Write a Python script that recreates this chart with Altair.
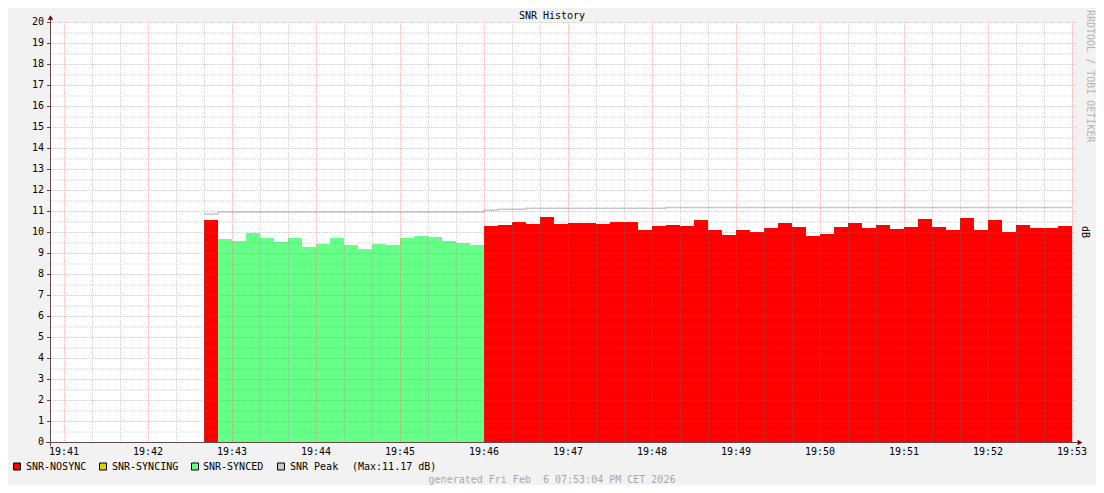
import altair as alt
import pandas as pd

# ---------------- values ----------------
x_tick_labels = ["19:41", "19:42", "19:43", "19:44", "19:45", "19:46", "19:47",
                 "19:48", "19:49", "19:50", "19:51", "19:52", "19:53"]
y_tick_values = [0, 1, 2, 3, 4, 5, 6, 7, 8, 9, 10, 11, 12, 13, 14, 15, 16, 17, 18, 19, 20]

state_names = ["SNR-NOSYNC", "SNR-SYNCING", "SNR-SYNCED"]
state_runs = [("SNR-NOSYNC", 1), ("SNR-SYNCED", 19), ("SNR-NOSYNC", 42)]
first_sample = "19:42:40"
step_seconds = 10

snr_values = [
    10.57,
    9.67, 9.57, 9.95, 9.71, 9.52, 9.71, 9.29, 9.43, 9.71, 9.38,
    9.19, 9.43, 9.38, 9.71, 9.81, 9.76, 9.57, 9.48, 9.38,
    10.29, 10.33, 10.48, 10.38, 10.71, 10.38, 10.43, 10.43, 10.38, 10.48, 10.48,
    10.10, 10.29, 10.33, 10.29, 10.57, 10.10, 9.86, 10.10, 10.00, 10.19,
    10.43, 10.24, 9.81, 9.90, 10.24, 10.43,
    10.19, 10.33, 10.14, 10.24, 10.62, 10.24, 10.10, 10.67, 10.10, 10.57,
    10.00, 10.33, 10.19, 10.19, 10.29,
]
snr_peak = [
    10.86,
    10.95, 10.95, 10.95, 10.95, 10.95, 10.95, 10.95, 10.95, 10.95, 10.95,
    10.95, 10.95, 10.95, 10.95, 10.95, 10.95, 10.95, 10.95, 10.95,
    11.03, 11.08, 11.08,
    11.13, 11.13, 11.13, 11.13, 11.13, 11.13, 11.13, 11.13, 11.13, 11.13,
    11.17, 11.17, 11.17, 11.17, 11.17, 11.17, 11.17, 11.17, 11.17, 11.17,
    11.17, 11.17, 11.17, 11.17, 11.17, 11.17, 11.17, 11.17, 11.17, 11.17,
    11.17, 11.17, 11.17, 11.17, 11.17, 11.17, 11.17, 11.17, 11.17,
]
legend_labels = ["SNR-NOSYNC", "SNR-SYNCING", "SNR-SYNCED", "SNR Peak"]
peak_note = "(Max:11.17 dB)"
title_text = "SNR History"
credit_text = "RRDTOOL / TOBI OETIKER"
unit_text = "dB"
generated_text = "generated Fri Feb\u00a0 6 07:53:04 PM CET 2026"

# ---------------- styles ----------------
FONT = "DejaVu Sans Mono"
state_colors = ["#ff0000", "#e0d000", "#66ff88"]
peak_color = "#c8c8c8"
axis_color = "#5f4848"
arrow_color = "#7f0000"
minor_grid = "rgba(128,128,128,0.36)"
major_grid = "rgba(235,70,70,0.36)"

W, H = 1022, 420

# ---------------- tables ----------------
h, m, s = (int(v) for v in first_sample.split(":"))
t0 = m * 60 + s  # seconds after 19:00
rows = []
i = 0
for state, n in state_runs:
    for _ in range(n):
        rows.append(dict(start=t0 + i * step_seconds, end=t0 + (i + 1) * step_seconds,
                         snr=snr_values[i], peak=snr_peak[i], state=state))
        i += 1
df = pd.DataFrame(rows)
peak_df = pd.DataFrame({
    "t": list(df["start"]) + [df["end"].iloc[-1]],
    "peak": list(df["peak"]) + [df["peak"].iloc[-1]],
})

major_x = [int(lab.split(":")[1]) * 60 for lab in x_tick_labels]
minor_x = [v for v in range(major_x[0], major_x[-1], 20) if v % 60 != 0]
major_y = [v for v in y_tick_values if v > 0]
minor_y = [v + 0.5 for v in y_tick_values[:-1]]

xscale = alt.Scale(domain=[major_x[0] - 10, major_x[-1]], nice=False, zero=False)
yscale = alt.Scale(domain=[0, 20], nice=False)

bars = alt.Chart(df).mark_rect().encode(
    x=alt.X("start:Q", scale=xscale, axis=None),
    x2="end:Q",
    y=alt.Y("snr:Q", scale=yscale, axis=None),
    y2=alt.datum(0),
    color=alt.Color("state:N", scale=alt.Scale(domain=state_names, range=state_colors), legend=None),
)

peak_line = alt.Chart(peak_df).mark_line(interpolate="step-after", color=peak_color,
                                         strokeWidth=1.5).encode(
    x=alt.X("t:Q", scale=xscale, axis=None),
    y=alt.Y("peak:Q", scale=yscale, axis=None),
)


def vgrid(vals, color):
    return alt.Chart(pd.DataFrame({"t": vals})).mark_rule(
        color=color, strokeDash=[1, 1], strokeWidth=1, xOffset=0.5).encode(
        x=alt.X("t:Q", scale=xscale, axis=None), y=alt.value(0), y2=alt.value(H))


def hgrid(vals, color, x1=1, x2=W + 4, dash=True):
    kw = dict(color=color, strokeWidth=1, yOffset=0.5)
    if dash:
        kw["strokeDash"] = [1, 1]
    return alt.Chart(pd.DataFrame({"v": vals})).mark_rule(**kw).encode(
        y=alt.Y("v:Q", scale=yscale, axis=None), x=alt.value(x1), x2=alt.value(x2))


one = pd.DataFrame({"k": [0]})
y_axis_line = alt.Chart(one).mark_rule(color=axis_color, strokeWidth=1, xOffset=0.5).encode(
    x=alt.value(0), y=alt.value(-4), y2=alt.value(H + 4))
x_axis_line = alt.Chart(one).mark_rule(color=axis_color, strokeWidth=1, yOffset=0.5).encode(
    y=alt.value(H), x=alt.value(-4), x2=alt.value(W + 6))
up_arrow = alt.Chart(one).mark_point(shape="triangle-up", filled=True, color=arrow_color,
                                     size=30, opacity=1).encode(
    x=alt.value(0.5), y=alt.value(-4.5))
right_arrow = alt.Chart(one).mark_point(shape="triangle-right", filled=True, color=arrow_color,
                                        size=30, opacity=1).encode(
    x=alt.value(W + 8), y=alt.value(H + 0.5))

y_labels = alt.Chart(pd.DataFrame({"v": y_tick_values})).mark_text(
    font=FONT, fontSize=10, color="#000000", align="right", baseline="middle").encode(
    y=alt.Y("v:Q", scale=yscale, axis=None), x=alt.value(-6), text="v:Q")
x_labels = alt.Chart(pd.DataFrame({"t": major_x, "lab": x_tick_labels})).mark_text(
    font=FONT, fontSize=10, color="#000000", align="center", baseline="middle").encode(
    x=alt.X("t:Q", scale=xscale, axis=None), y=alt.value(H + 10), text="lab:N")


def text(label, x, y, **kw):
    base = dict(font=FONT, fontSize=10, color="#000000", baseline="middle")
    base.update(kw)
    return alt.Chart(pd.DataFrame({"label": [label]})).mark_text(**base).encode(
        text="label:N", x=alt.value(x), y=alt.value(y))


layers = [bars, peak_line,
          vgrid(minor_x, minor_grid), hgrid(minor_y, minor_grid),
          vgrid(major_x, major_grid), hgrid(major_y, major_grid),
          hgrid(y_tick_values, axis_color, x1=-3, x2=0, dash=False),
          y_axis_line, x_axis_line, up_arrow, right_arrow,
          y_labels, x_labels]

layers.append(text(title_text, 502, -6, align="center"))
layers.append(text(credit_text, 1040, -12, align="left", angle=90, color="#b4b4b4"))
layers.append(text(unit_text, 1035, 210, align="center", angle=90))
layers.append(text(generated_text, 502, 458, align="center", color="#a8a8a8"))

legend_colors = state_colors + [peak_color]
legend_sq_x = [-33, 53, 145, 231]
legend_tx_x = [-24, 62, 153, 240]
LEG_Y = 444.5
for lab, col, sx, tx in zip(legend_labels, legend_colors, legend_sq_x, legend_tx_x):
    layers.append(alt.Chart(one).mark_square(color=col, filled=True, size=49, stroke="#000000",
                                             strokeWidth=1, opacity=1).encode(
        x=alt.value(sx), y=alt.value(LEG_Y)))
    layers.append(text(lab, tx, LEG_Y, align="left"))
layers.append(text(peak_note, 302, LEG_Y, align="left"))

chart = alt.layer(*layers).properties(
    width=W, height=H,
    autosize=alt.AutoSizeParams(type="none"),
    padding={"left": 42, "top": 14, "right": 24, "bottom": 43},
    background="#f2f2f2",
).configure_view(stroke=None, fill="#ffffff")

chart.save("out.html", embed_options={"renderer": "svg", "actions": False})
